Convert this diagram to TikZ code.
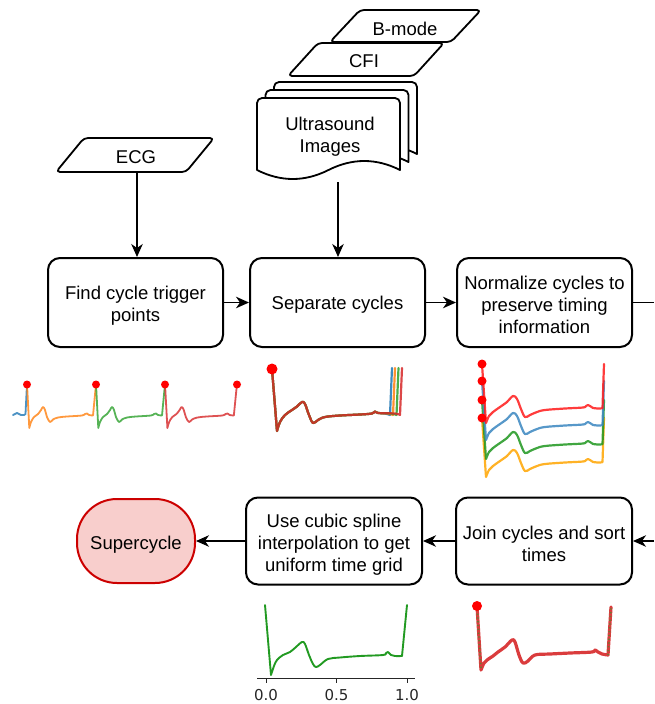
\documentclass[tikz,border=0pt]{standalone}
\usepackage{fontspec}
\setmainfont{Liberation Sans}
\newfontfamily\plotfont{DejaVu Sans}
\usetikzlibrary{arrows.meta}

\definecolor{tabblue}{HTML}{1F77B4}
\definecolor{taborange}{HTML}{FF7F0E}
\definecolor{tabgreen}{HTML}{2CA02C}
\definecolor{tabred}{HTML}{D62728}
\definecolor{nblue}{HTML}{3A86C0}
\definecolor{ngreen}{HTML}{1E961E}
\definecolor{norange}{HTML}{FFA500}
\definecolor{nred}{HTML}{FF1A1A}
\definecolor{splgreen}{HTML}{229A22}
\definecolor{termfill}{HTML}{F8CECC}
\definecolor{termline}{HTML}{CC0000}
\definecolor{axisgray}{HTML}{262626}

\newcommand\boxfont{\fontsize{18.5}{21.8}\selectfont}

% one heartbeat, starting at the R peak, local units (px)
\newcommand\ecgbeat{(0,0) -- (2.3,44) -- plot[smooth,tension=0.6] coordinates {(2.3,44) (4,38) (7,33) (11,30) (14,26) (16,23) (18,26) (20,33) (23,38) (26,35.5) (31,33.5) (40,32.5) (55,31.5) (58,30) (60,29.5) (62,31) (66,31.5)} -- (69,0)}

% a separated cycle ending at a given sample
\newcommand\sepcurve[4]{\draw[sepline,#1] (272,369) -- (277,431) -- plot[smooth,tension=0.6] coordinates {(277,431) (280,422) (285,415) (292,410) (297,406.5) (302,402) (305,404) (309,415) (313,423) (318,420) (325,417) (340,415.5) (360,414.5) (372,413.5) (375,411.5) (378,413) (#2,413.5) (#3,415)} -- (#4,368);}

% a normalised cycle (upper curve), shifted down for the others
\newcommand\normcurve{(482,364) -- (486,423) -- plot[smooth,tension=0.6] coordinates {(486,423) (489,416) (493,412) (500,407) (507,402) (513,396) (517,399) (521,409) (525,417) (530,415) (537,412) (545,410) (565,408.5) (583,407.5) (586,406) (588,405) (590,406) (593,408) (600,408.5) (602.5,408)} -- (604,364)}

% joined samples of all cycles
\newcommand\joinedcurve{(477,606) -- (481,670) -- plot[smooth,tension=0.6] coordinates {(481,670) (484,663) (487,660) (493,656) (498,652) (505,647) (512,640) (515,642) (519,655) (523,663) (528,661) (535,655) (550,654) (570,653) (592,652) (595,650) (598,652) (602,654) (608,655)} -- (611,607)}

\begin{document}
\begin{tikzpicture}[x=1pt,y=-1pt,
  procbox/.style={draw, line width=2pt, rounded corners=12pt, minimum width=175pt,
    minimum height=89pt, inner sep=0pt, fill=white},
  boxtext/.style={font=\boxfont, align=center, inner sep=0pt, yshift=-2.5pt},
  terminal/.style={draw=termline, fill=termfill, line width=2pt, rounded corners=40pt,
    minimum width=118pt, minimum height=84pt, inner sep=0pt},
  datashape/.style={draw, fill=white, line width=1.8pt, line join=round},
  label/.style={font=\boxfont, inner sep=0pt},
  flow/.style={-{Stealth[length=13pt,width=11.5pt,inset=4pt]}, line width=1.4pt},
  ecgline/.style={line width=1.8pt, opacity=0.8, line join=round, line cap=round},
  sepline/.style={line width=2.2pt, opacity=0.85, line join=round, line cap=round},
  normline/.style={line width=2.2pt, opacity=0.85, line join=round, line cap=round},
  rdot/.style={fill=red, draw=none}
]
\useasboundingbox (0,0) rectangle (654,704);

% ---------- inputs ----------
\draw[datashape, rounded corners=4pt] (330,42) -- (360,10) -- (481,10) -- (451,42) -- cycle;
\node[label] (bmode) at (405,28.5) {B-mode};
\draw[datashape, rounded corners=4pt] (288,76) -- (318,43) -- (444,43) -- (414,76) -- cycle;
\node[label] (cfi) at (364,61) {CFI};

\foreach \dx/\dy in {17/-16, 8.5/-8, 0/0}{
  \begin{scope}[shift={(\dx,\dy)}]
    \draw[datashape] (257,134) [rounded corners=5pt] -- (257,98) -- (400,98) -- (400,134)
      [sharp corners] -- (400,170) .. controls (376.2,158) and (352.3,158) .. (328.5,170)
      .. controls (304.7,182) and (280.8,182) .. (257,170) -- cycle;
  \end{scope}
}
\node[label, align=center] (us) at (330,136.5) {Ultrasound\\Images};
\coordinate (usb) at (338,182);

\draw[datashape, rounded corners=4pt] (56,172) -- (84,138) -- (214,138) -- (186,172) -- cycle;
\node[label] (ecg) at (136,157) {ECG};
\coordinate (ecgb) at (137,172);

% ---------- process steps ----------
\node[procbox] (find) at (135.5,302.5) {};
\node[procbox] (sep) at (337.5,302.5) {};
\node[procbox] (norm) at (544.5,302.5) {};
\node[procbox, minimum width=176pt, minimum height=87pt] (join) at (544,541) {};
\node[procbox, minimum width=176pt, minimum height=87pt] (spline) at (334,541) {};
\node[terminal] (super) at (136,541) {};

\node[boxtext, yshift=-1pt] (findtxt) at (find) {Find cycle trigger\\points};
\node[boxtext] (septxt) at (sep) {Separate cycles};
\node[boxtext] (normtxt) at (norm) {Normalize cycles to\\preserve timing\\information};
\node[boxtext] (jointxt) at (join) {Join cycles and sort\\times};
\node[boxtext, yshift=-1.5pt] (splinetxt) at (spline) {Use cubic spline\\interpolation to get\\uniform time grid};
\node[boxtext, yshift=-1pt] (supertxt) at (super) {Supercycle};

\coordinate (outR) at (654,302.5);
\coordinate (inR) at (654,541);

% ---------- connectors ----------
\draw[flow] (ecgb) -- (ecgb |- find.north);
\draw[flow] (usb) -- (usb |- sep.north);
\draw[flow] (find) -- (sep);
\draw[flow] (sep) -- (norm);
\draw[line width=1.4pt] (norm) -- (outR);
\draw[flow] (inR) -- (join);
\draw[flow] (join) -- (spline);
\draw[flow] (spline) -- (super);

% ---------- ECG with trigger points ----------
\draw[ecgline, tabblue] plot[smooth,tension=0.6] coordinates {(13,415) (15,414) (17,413) (19,414) (21,415) (24,415) (25.5,414)} -- (27,384);
\begin{scope}[shift={(27,384)}]\draw[ecgline, taborange] \ecgbeat;\end{scope}
\begin{scope}[shift={(96,384)}]\draw[ecgline, tabgreen] \ecgbeat;\end{scope}
\begin{scope}[shift={(165,384)}, xscale=1.043]\draw[ecgline, tabred] \ecgbeat;\end{scope}
\foreach \px in {27,96,165,237}{\fill[rdot] (\px,384.5) circle (4pt);}

% ---------- separated cycles ----------
\sepcurve{tabblue}{385}{390}{392}
\sepcurve{taborange}{388}{393}{395}
\sepcurve{tabgreen}{391}{396.5}{398.5}
\sepcurve{tabred}{395}{400}{402}
\fill[rdot] (272,369) circle (5.5pt);

% ---------- normalised cycles ----------
\begin{scope}[shift={(0,54)}]\draw[normline, norange] \normcurve;\end{scope}
\begin{scope}[shift={(0,36)}]\draw[normline, ngreen] \normcurve;\end{scope}
\begin{scope}[shift={(0,17)}]\draw[normline, nblue] \normcurve;\end{scope}
\draw[normline, nred] \normcurve;
\foreach \py in {364,381,400,418}{\fill[rdot] (482,\py) circle (4.5pt);}

% ---------- joined and sorted samples ----------
\draw[line width=3.2pt, tabred, opacity=0.9, line join=round, line cap=round] \joinedcurve;
\draw[line width=2pt, tabgreen, opacity=0.6, dash pattern=on 1.2pt off 2.6pt] (477,606) -- (481,670);
\draw[line width=2pt, tabgreen, opacity=0.6, dash pattern=on 1.2pt off 2.6pt] (608,655) -- (611,607);
\fill[rdot] (477,606) circle (5pt);

% ---------- spline on a uniform grid ----------
\draw[line width=1.9pt, splgreen, line join=round, line cap=round] (265,605) -- (271,675) --
  plot[smooth,tension=0.6] coordinates {(271,675) (274,666) (277,660) (283,655) (290,652) (296,647) (302,642) (305,644) (309,655) (313,664) (316,667) (320,665) (328,659) (340,657.5) (360,656) (383,655) (386,653) (388,652) (391,655) (395,656) (402,656)} -- (407,605);
\draw[axisgray, line width=1pt] (257,678) -- (415,678);
\foreach \tx/\tl in {266/0.0, 336.5/0.5, 407/1.0}{
  \draw[axisgray, line width=1pt] (\tx,678) -- (\tx,682.5);
  \node[axisgray, font=\plotfont\fontsize{15}{16}\selectfont, inner sep=0pt] at (\tx,695.5) {\tl};
}
\end{tikzpicture}
\end{document}
